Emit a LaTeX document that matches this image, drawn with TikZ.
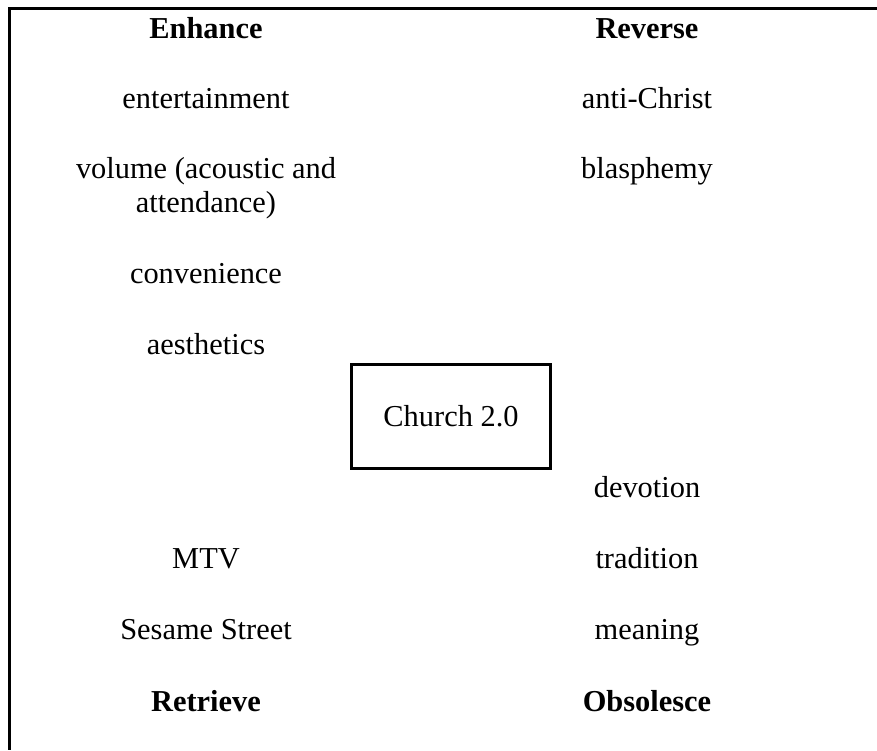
\documentclass[tikz,border=0pt]{standalone}
\usepackage{fontspec}
\setmainfont{Liberation Serif}
\usetikzlibrary{positioning}

\begin{document}
\begin{tikzpicture}[
  x=1pt, y=-1pt,
  txt/.style={anchor=base, inner sep=0pt, align=center,
              font=\fontsize{30.4}{34}\selectfont},
  head/.style={txt, font=\fontsize{30.4}{34}\selectfont\bfseries},
  core/.style={draw, line width=3pt, minimum width=199pt, minimum height=104pt,
               inner sep=0pt, align=center, font=\fontsize{30.4}{34}\selectfont},
]
\useasboundingbox (0,0) rectangle (877,750);
\draw[line width=3pt] (877,8.5) -- (9.5,8.5) -- (9.5,750);
% headings
\node[head] (enh) at (206,38) {Enhance};
\node[head] (rev) at (647,38) {Reverse};
\node[head] (ret) at (206,711) {Retrieve};
\node[head] (obs) at (647,711) {Obsolesce};
% left column
\node[txt] (ent) at (206,108) {entertainment};
\node[txt] (vol) at (206,212) {volume (acoustic and\\attendance)};
\node[txt] (con) at (206,283) {convenience};
\node[txt] (aes) at (206,354) {aesthetics};
\node[txt] (mtv) at (206,568) {MTV};
\node[txt] (ses) at (206,639) {Sesame Street};
% right column
\node[txt] (ant) at (647,108) {anti-Christ};
\node[txt] (bla) at (647,178) {blasphemy};
\node[txt] (dev) at (647,497) {devotion};
\node[txt] (tra) at (647,568) {tradition};
\node[txt] (mea) at (647,639) {meaning};
% medium
\node[core] (church) at (451,416.5) {Church 2.0};
\end{tikzpicture}
\end{document}
